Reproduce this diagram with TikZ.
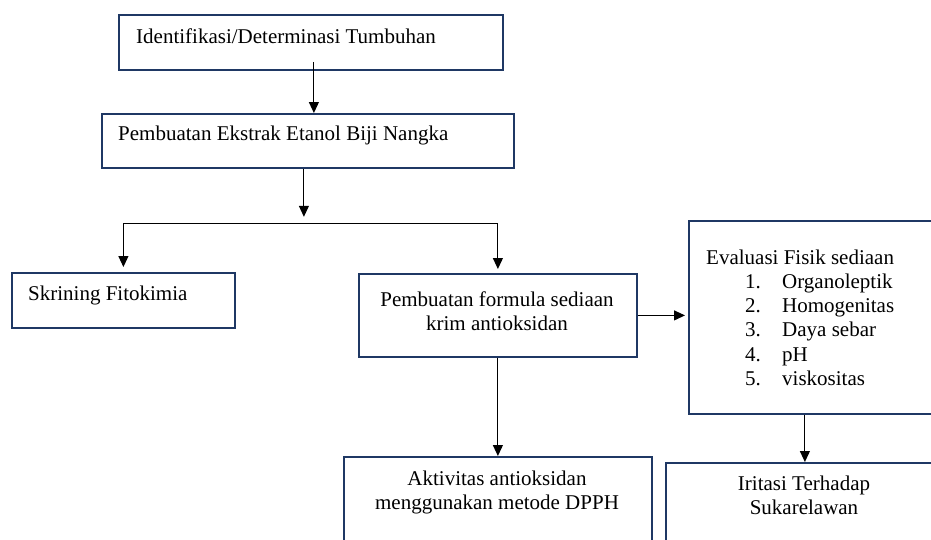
\documentclass[tikz,border=0pt]{standalone}
\usepackage{fontspec}
\setmainfont{Liberation Serif}
\usetikzlibrary{arrows.meta}
\definecolor{boxblue}{RGB}{31,56,100}

\begin{document}
\begin{tikzpicture}[x=1pt,y=-1pt,
        box/.style={draw=boxblue,line width=1.8pt,rectangle,inner sep=0pt,anchor=north west},
        txt/.style={inner sep=0pt,font=\fontsize{21}{24.3}\selectfont},
        arr/.style={-{Triangle[length=11pt,width=10pt]},line width=1.1pt}]
        \useasboundingbox (0,0) rectangle (931,539);
        \clip (0,0) rectangle (931,539);

        % boxes
        \node[box,minimum width=384pt,minimum height=55pt](ident)at(118,14){};
        \node[box,minimum width=412pt,minimum height=54pt](ekstrak)at(101,113){};
        \node[box,minimum width=223pt,minimum height=55pt](skrin)at(11,272){};
        \node[box,minimum width=278pt,minimum height=83pt](form)at(358,273){};
        \node[box,minimum width=252pt,minimum height=193pt](eval)at(688,220){};
        \node[box,minimum width=308pt,minimum height=110pt](aktiv)at(343,456){};
        \node[box,minimum width=278pt,minimum height=110pt](irit)at(665,462){};

        % texts
        \node[txt,anchor=base west](identtxt)at(136,43){Identifikasi/Determinasi Tumbuhan};
        \node[txt,anchor=base west](ekstraktxt)at(118,140){Pembuatan Ekstrak Etanol Biji Nangka};
        \node[txt,anchor=base west](skrintxt)at(28,300){Skrining Fitokimia};
        \node[txt,anchor=north,align=center](formtxt)at(497,291.5){Pembuatan formula sediaan\\krim antioksidan};
        \node[txt,anchor=north,align=center](aktivtxt)at(497,470.5){Aktivitas antioksidan\\menggunakan metode DPPH};
        \node[txt,anchor=north,align=center](irittxt)at(804,475.5){Iritasi Terhadap\\Sukarelawan};
        \node[txt,anchor=base west](evaltxt)at(706,264){Evaluasi Fisik sediaan};
        \foreach \n/\item in {1/Organoleptik,2/Homogenitas,3/Daya sebar,4/pH,5/viskositas}{
            \node[txt,anchor=base west](num\n)at(745,264+24.3*\n){\n.};
            \node[txt,anchor=base west](item\n)at(782,264+24.3*\n){\item};
        }

        % arrows
        \draw[arr]([xshift=3pt,yshift=9pt]ident.south)coordinate(a1)--(a1 |- ekstrak.north);
        \coordinate(fork)at([xshift=-4pt,yshift=-55pt]ekstrak.south);
        \draw[arr]([xshift=-4pt]ekstrak.south)--([yshift=7pt]fork);
        \draw[line width=0.8pt](fork -| skrin.north)--(fork -| form.north);
        \draw[arr](fork -| skrin.north)--([yshift=5pt]skrin.north);
        \draw[arr](fork -| form.north)--([yshift=4pt]form.north);
        \draw[arr](form.east)--([xshift=-3pt]form.east -| eval.west);
        \draw[arr](form.south)--(aktiv.north);
        \draw[arr](eval.south -| irit.north)--(irit.north);
    \end{tikzpicture}
\end{document}
